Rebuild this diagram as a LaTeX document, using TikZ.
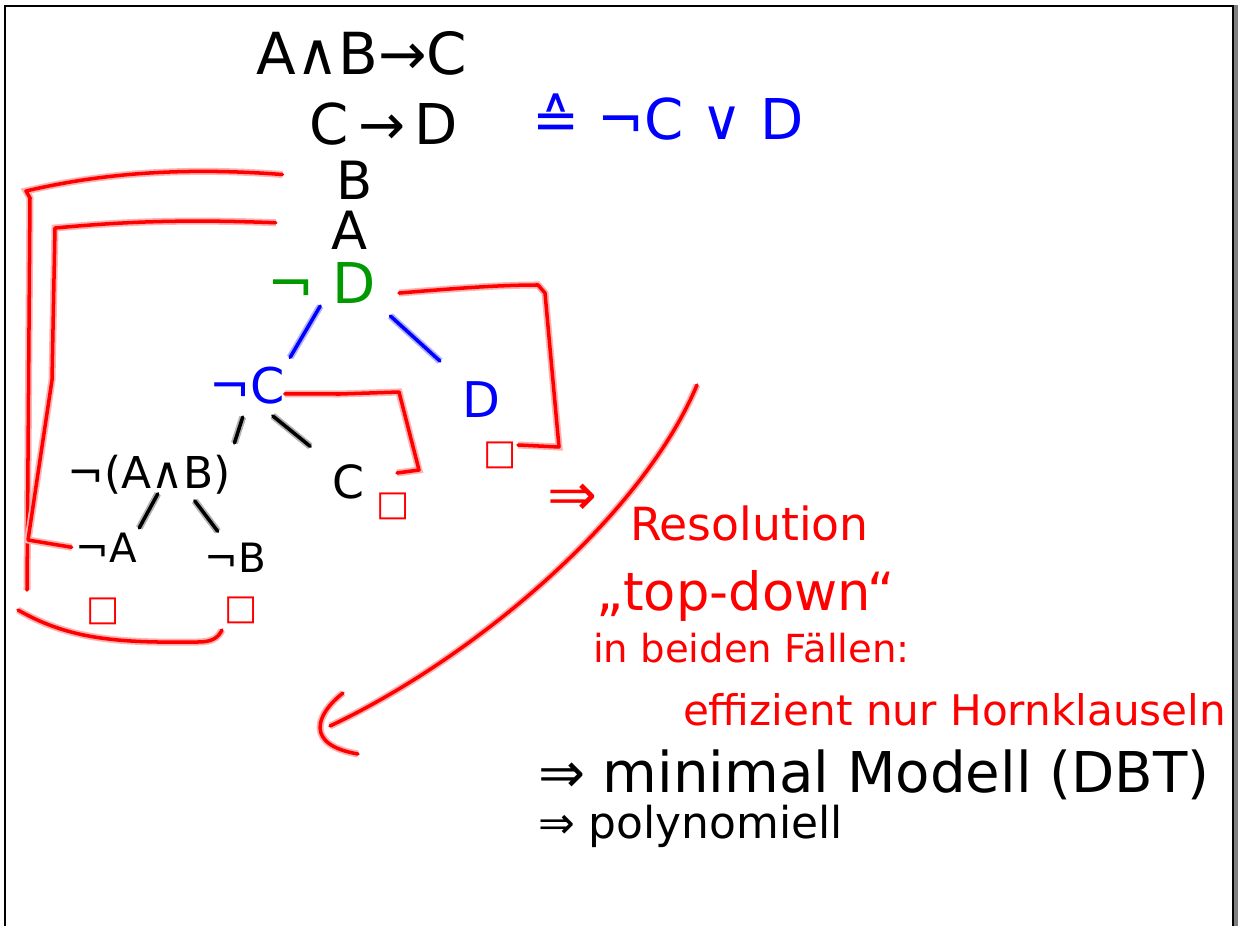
\documentclass[tikz,border=0pt]{standalone}
\usepackage{fontspec}
\setmainfont{DejaVu Sans}
\newcommand{\handsize}[1]{\fontsize{#1}{#1}\selectfont}

\begin{document}
\begin{tikzpicture}[
  x=0.02cm, y=-0.02cm,
  every node/.style={inner sep=0pt, outer sep=0pt},
  ink/.style={text=black},
  blueink/.style={text=blue},
  greenink/.style={text=green!60!black},
  redink/.style={text=red},
  emptycl/.style={text=red, font=\handsize{20}},
  edge/.style={draw=black, line width=2pt, line cap=round, preaction={draw=black!30, line width=4pt}},
  blueedge/.style={draw=blue, line width=2pt, line cap=round, preaction={draw=blue!30, line width=4pt}},
  bracket/.style={draw=red, line width=2pt, line cap=round, line join=round, preaction={draw=red!30, line width=4pt}}]

  \useasboundingbox (0,0) rectangle (1238,926);
  \fill[white] (0,0) rectangle (1238,926);

  % The page frame with its shadow on the right
  \fill[black!50] (1233,5) rectangle (1238,926);
  \draw[line width=1.1pt] (5,926) -- (5,6) -- (1233,6) -- (1233,926);

  % Knowledge base
  \node[ink, font=\handsize{33}, anchor=base] (kbone) at (362,75) {A∧B→C};
  \node[ink, font=\handsize{32}, anchor=base] (kbtwo) at (384,145) {C\,→\,D};
  \node[blueink, font=\handsize{32}, anchor=base] (kbtwoeq) at (668,140) {≙ ¬C ∨ D};
  \node[ink, font=\handsize{30}, anchor=base] (kbB) at (355,199) {B};
  \node[ink, font=\handsize{30}, anchor=base] (kbA) at (350,249) {A};

  % The resolution tree
  \node[greenink, font=\handsize{32}, anchor=base] (goal) at (322,303) {¬ D};
  \node[blueink, font=\handsize{28}, anchor=base] (negC) at (247,403) {¬C};
  \node[blueink, font=\handsize{28}, anchor=base] (posD) at (481,417) {D};
  \node[ink, font=\handsize{25}, anchor=base] (negAB) at (149,488) {¬(A∧B)};
  \node[ink, font=\handsize{26}, anchor=base] (posC) at (348,498) {C};
  \node[ink, font=\handsize{23}, anchor=base] (negA) at (106,562) {¬A};
  \node[ink, font=\handsize{23}, anchor=base] (negB) at (235,572) {¬B};

  % Empty clauses
  \node[emptycl] (emptyC) at (393,506) {□};
  \node[emptycl] (emptyD) at (500,455) {□};
  \node[emptycl] (emptyA) at (103,611) {□};
  \node[emptycl] (emptyB) at (241,610) {□};

  % Notes on the right
  \node[redink, font=\handsize{34}] (impl) at (573,500) {⇒};
  \node[redink, font=\handsize{26}, anchor=base west] (resol) at (630,540) {Resolution};
  \node[redink, font=\handsize{30}, anchor=base west] (topdown) at (596,610) {„top-down“};
  \node[redink, font=\handsize{22}, anchor=base west] (both) at (593,662) {in beiden Fällen:};
  \node[redink, font=\handsize{24}, anchor=base west] (horn) at (683,725) {effizient nur Hornklauseln};
  \node[ink, font=\handsize{32}, anchor=base west] (minmod) at (538,792) {⇒ minimal Modell (DBT)};
  \node[ink, font=\handsize{25}, anchor=base west] (poly) at (538,838) {⇒ polynomiell};

  % Draw the tree edges
  \draw[blueedge, shorten <=2pt, shorten >=6pt] (goal.south) -- (negC.north east);
  \draw[blueedge, shorten <=11pt, shorten >=17pt] (goal.south east) -- (posD.north west);
  \draw[edge, shorten <=8pt, shorten >=7pt] (negC.south) -- (negAB.north east);
  \draw[edge, shorten <=11pt, shorten >=16pt] (negC.-60) -- (posC.north west);
  \draw[edge, shorten >=3pt] ([xshift=5pt]negAB.south) -- (negA.north east);
  \draw[edge, shorten <=5pt, shorten >=8pt] ([xshift=23pt]negAB.south) -- ([xshift=-5pt]negB.north);

  % Red brackets: which clause closes which branch
  \coordinate (outerend) at (27,590);
  \coordinate (closeL) at (18,610);
  \coordinate (closeR) at (222,630);
  \draw[bracket] ([xshift=-31pt,yshift=3pt]kbB.west) .. controls (170,166) and (90,176) .. (26,191) -- (30,198) -- (outerend);
  \draw[bracket] ([xshift=-32pt,yshift=4pt]kbA.west) .. controls (180,219) and (120,222) .. (55,228) -- (52,380) -- (28,540) -- ([xshift=-2pt]negA.west);
  \draw[bracket] (closeL) .. controls (70,640) and (120,643) .. (198,642) .. controls (212,642) and (218,638) .. (closeR);
  \draw[bracket] ([yshift=-5pt]negC.east) -- (340,394) -- (399,392) -- (419,470) -- (397,473);
  \draw[bracket] ([xshift=13pt,yshift=-6pt]goal.east) .. controls (460,288) and (500,285) .. (538,285) -- (545,293) -- (559,447) -- (518,445);

  % The big arrow back to the tree
  \coordinate (arrowtail) at (697,385);
  \coordinate (arrowtip) at (330,726);
  \coordinate (headtop) at (343,693);
  \coordinate (headbot) at (358,754);
  \draw[bracket] (arrowtail) .. controls (640,520) and (470,660) .. (arrowtip);
  \draw[bracket] (headtop) .. controls (315,715) and (305,745) .. (headbot);
\end{tikzpicture}
\end{document}
